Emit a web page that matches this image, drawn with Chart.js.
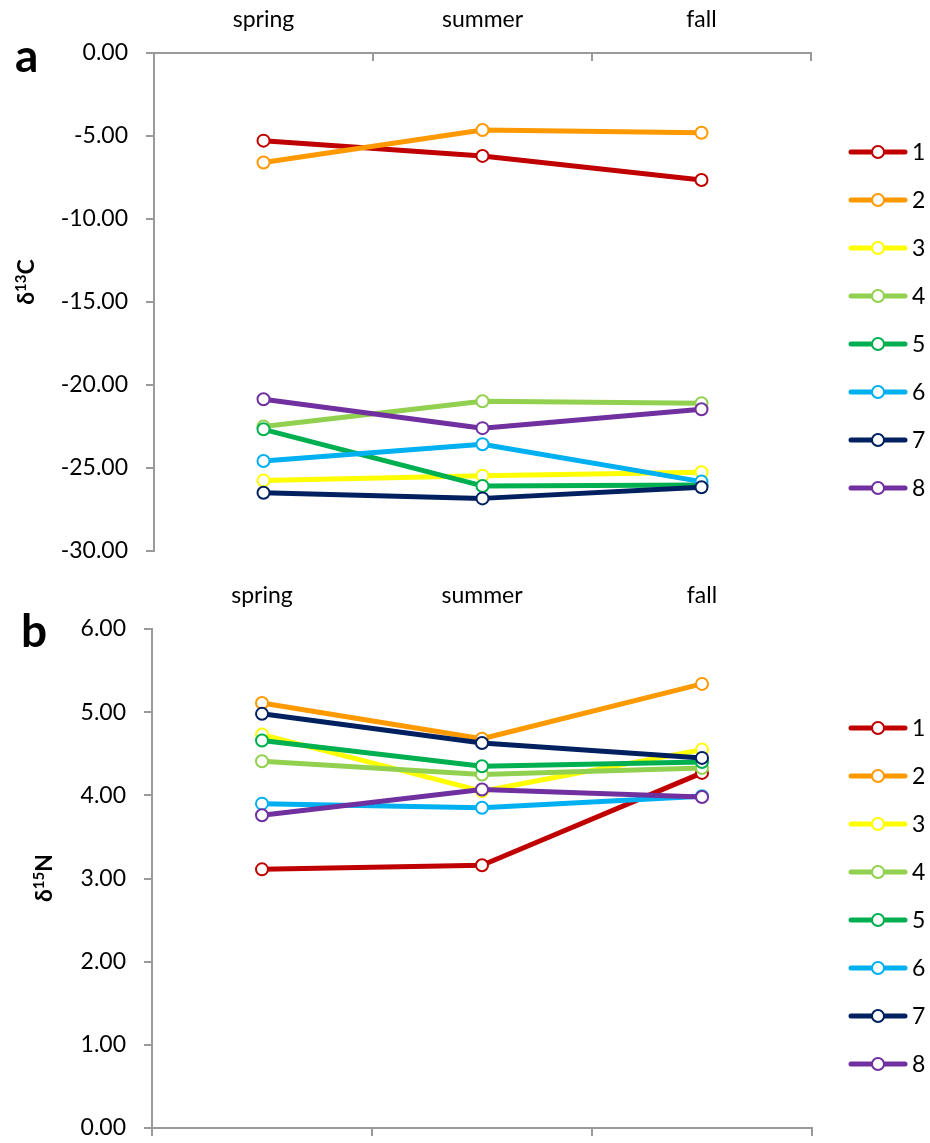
<!DOCTYPE html>
<html>
<head>
<meta charset="utf-8">
<script src="https://cdn.jsdelivr.net/npm/chart.js@4/dist/chart.umd.min.js"></script>
<style>
    body { margin: 0; background: #fff; }
    #wrap { position: relative; width: 930px; height: 1143px; }
    .panel { position: absolute; left: 0; }
</style>
</head>
<body>
<div id="wrap">
    <canvas class="panel" id="chart-c" width="930" height="565" style="top:0"></canvas>
    <canvas class="panel" id="chart-n" width="930" height="578" style="top:565px"></canvas>
</div>
<script>
// --- Data ---
const seasons = ['spring', 'summer', 'fall'];
const seriesNames = ['1', '2', '3', '4', '5', '6', '7', '8'];
const seriesColors = ['#C00000', '#FF9900', '#FFFF00', '#92D050', '#00B050', '#00B0F0', '#002060', '#7030A0'];

// δ13C, one row per series: spring, summer, fall
const d13C = [
    [-5.28, -6.20, -7.65],
    [-6.60, -4.64, -4.80],
    [-25.76, -25.46, -25.26],
    [-22.50, -20.98, -21.10],
    [-22.67, -26.08, -26.02],
    [-24.58, -23.57, -25.82],
    [-26.49, -26.83, -26.16],
    [-20.86, -22.60, -21.46]
];

// δ15N
const d15N = [
    [3.11, 3.16, 4.27],
    [5.11, 4.68, 5.34],
    [4.73, 4.05, 4.55],
    [4.41, 4.25, 4.33],
    [4.66, 4.35, 4.40],
    [3.90, 3.85, 3.99],
    [4.98, 4.63, 4.45],
    [3.76, 4.07, 3.98]
];

const cTicks = { min: -30, max: 0, step: 5 };
const nTicks = { min: 0, max: 6, step: 1 };

const FONT = 'Lato';
const AXIS_GREY = '#9a9a9a';

function makeDatasets(values) {
    return values.map((vals, i) => ({
        label: seriesNames[i],
        data: vals,
        borderColor: seriesColors[i],
        backgroundColor: seriesColors[i],
        pointBackgroundColor: '#fff',
        pointBorderColor: seriesColors[i],
        pointBorderWidth: 2,
        pointRadius: 6,
        borderWidth: 5,
        borderJoinStyle: 'round',
        borderCapStyle: 'round',
        tension: 0,
        order: values.length - 1 - i   // later series on top, like Excel
    }));
}

// panel letter, y title with superscript, and side legend
const panelDecor = {
    id: 'panelDecor',
    afterDraw(chart, args, o) {
        const ctx = chart.ctx;
        ctx.save();
        ctx.fillStyle = '#000';
        ctx.textAlign = 'left';
        ctx.textBaseline = 'alphabetic';
        ctx.font = `bold 46px ${FONT}`;
        ctx.fillText(o.letter, o.letterX, o.letterY);

        // rotated title: δ + sup + letter
        ctx.save();
        ctx.translate(o.titleX, o.titleY);
        ctx.rotate(-Math.PI / 2);
        const big = `bold 23px ${FONT}`, small = `bold 15px ${FONT}`;
        ctx.font = big; const w1 = ctx.measureText('δ').width;
        ctx.font = small; const w2 = ctx.measureText(o.sup).width;
        ctx.font = big; const w3 = ctx.measureText(o.elem).width;
        let x = -(w1 + w2 + w3) / 2;
        ctx.font = big; ctx.fillText('δ', x, 0); x += w1;
        ctx.font = small; ctx.fillText(o.sup, x, -8); x += w2;
        ctx.font = big; ctx.fillText(o.elem, x, 0);
        ctx.restore();

        // legend
        ctx.font = `23px ${FONT}`;
        ctx.textBaseline = 'middle';
        chart.data.datasets.forEach((ds, i) => {
            const y = o.legendY + i * 48;
            ctx.strokeStyle = ds.borderColor;
            ctx.lineWidth = 5;
            ctx.lineCap = 'round';
            ctx.beginPath();
            ctx.moveTo(o.legendX, y);
            ctx.lineTo(o.legendX + 54, y);
            ctx.stroke();
            ctx.beginPath();
            ctx.arc(o.legendX + 27, y, 6, 0, Math.PI * 2);
            ctx.fillStyle = '#fff';
            ctx.fill();
            ctx.lineWidth = 2;
            ctx.stroke();
            ctx.fillStyle = '#000';
            ctx.fillText(ds.label, o.legendX + 61, y + 1);
        });
        ctx.restore();
    }
};

function yAxis(t, width) {
    return {
        position: 'left',
        min: t.min, max: t.max,
        afterFit: s => { s.width = width; s.paddingTop = 0; s.paddingBottom = 0; },
        border: { display: true, color: AXIS_GREY, width: 2 },
        grid: { drawOnChartArea: false, drawTicks: true, tickLength: 8, color: AXIS_GREY, lineWidth: 2 },
        ticks: {
            stepSize: t.step, padding: 18, color: '#000',
            font: { family: FONT, size: 23 },
            callback: v => Number(v).toFixed(2)
        }
    };
}

// --- Panel a: δ13C ---
new Chart(document.getElementById('chart-c').getContext('2d'), {
    type: 'line',
    data: { labels: seasons, datasets: makeDatasets(d13C) },
    plugins: [panelDecor],
    options: {
        responsive: false,
        animation: false,
        layout: { padding: { left: 0, right: 119, top: 0, bottom: 14 } },
        scales: {
            x: {
                type: 'category',
                position: 'top',
                offset: true,
                afterFit: s => { s.height = 53; },
                border: { display: true, color: AXIS_GREY, width: 2 },
                grid: { offset: true, drawOnChartArea: false, tickLength: -8, color: AXIS_GREY, lineWidth: 2 },
                ticks: { padding: 28, color: '#000', font: { family: FONT, size: 23 } }
            },
            y: yAxis(cTicks, 154)
        },
        plugins: {
            legend: { display: false },
            tooltip: { enabled: false },
            panelDecor: { letter: 'a', letterX: 15, letterY: 72, sup: '13', elem: 'C', titleX: 34, titleY: 282, legendX: 851, legendY: 152 }
        }
    }
});

// --- Panel b: δ15N ---
new Chart(document.getElementById('chart-n').getContext('2d'), {
    type: 'line',
    data: { labels: seasons, datasets: makeDatasets(d15N) },
    plugins: [panelDecor],
    options: {
        responsive: false,
        animation: false,
        layout: { padding: { left: 0, right: 118, top: 0, bottom: 0 } },
        scales: {
            x: {
                type: 'category',
                position: 'top',
                offset: true,
                afterFit: s => { s.height = 64; },
                border: { display: false },
                grid: { display: false, drawTicks: false },
                ticks: { padding: 20, color: '#000', font: { family: FONT, size: 23 } }
            },
            x2: {
                type: 'category',
                position: 'bottom',
                offset: true,
                afterFit: s => { s.height = 15; },
                border: { display: true, color: AXIS_GREY, width: 2 },
                grid: { offset: true, drawOnChartArea: false, tickLength: 8, color: AXIS_GREY, lineWidth: 2 },
                ticks: { display: false }
            },
            y: yAxis(nTicks, 152)
        },
        plugins: {
            legend: { display: false },
            tooltip: { enabled: false },
            panelDecor: { letter: 'b', letterX: 21, letterY: 82, sup: '15', elem: 'N', titleX: 52, titleY: 313, legendX: 851, legendY: 163 }
        }
    }
});
</script>
</body>
</html>
